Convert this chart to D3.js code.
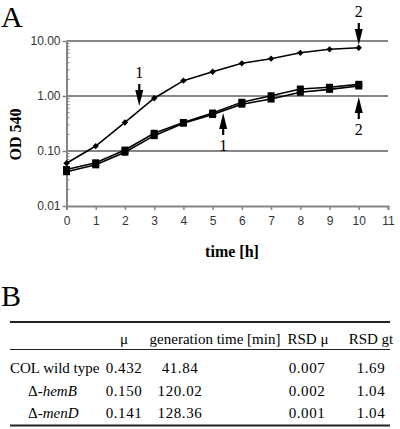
<!DOCTYPE html>
<html><head><meta charset="utf-8">
<script src="https://cdn.jsdelivr.net/npm/d3@7"></script>
<style>html,body{margin:0;padding:0;background:#fff;}</style>
</head><body>
<svg id="c" width="400" height="429"></svg>
<script>
const hours = [0,1,2,3,4,5,6,7,8,9,10];
const wildType = [0.060,0.123,0.33,0.91,1.9,2.76,3.93,4.77,6.1,7.06,7.55];
const hemB = [0.046,0.061,0.104,0.21,0.33,0.49,0.77,1.01,1.34,1.44,1.63];
const menD = [0.042,0.056,0.095,0.19,0.32,0.46,0.71,0.88,1.17,1.32,1.52];
const xTicks = [0,1,2,3,4,5,6,7,8,9,10,11];
const yTicks = [0.01,0.1,1,10];
const arrows = [
  {t:2.49, od:0.66, dir:"down", label:"1"},
  {t:5.36, od:0.49, dir:"up", label:"1"},
  {t:10, od:8.45, dir:"down", label:"2"},
  {t:10, od:0.96, dir:"up", label:"2"}
];
const tableHeader = ["", "\u03bc", "generation time [min]", "RSD \u03bc", "RSD gt"];
const strains = ["COL wild type", "\u0394-", "\u0394-"];
const strainItalic = ["", "hemB", "menD"];
const mu = ["0.432","0.150","0.141"];
const genTime = ["41.84","120.02","128.36"];
const rsdMu = ["0.007","0.002","0.001"];
const rsdGt = ["1.69","1.04","1.04"];

const svg = d3.select("#c");
const x = d3.scaleLinear().domain([0,11]).range([66.5,388]);
const y = d3.scaleLog().domain([0.01,10]).range([206,41]);
const grey = "#858585";
const serif = "'Liberation Serif','Times New Roman',serif";
const sans = "'Liberation Sans',Arial,sans-serif";

svg.append("text").attr("x",1).attr("y",27).attr("font-family",serif).attr("font-size",30).text("A");

// gridlines
svg.append("g").selectAll("line").data(yTicks.filter(d=>d>0.01)).join("line")
  .attr("x1",x(0)).attr("x2",x(11)).attr("y1",d=>y(d)).attr("y2",d=>y(d))
  .attr("stroke",grey).attr("stroke-width",2);

// x axis
const xa = svg.append("g").attr("transform",`translate(0,${y(0.01)})`)
  .call(d3.axisBottom(x).tickValues(xTicks).tickFormat(d3.format("d")).tickSize(4).tickPadding(6));
xa.select(".domain").attr("stroke",grey).attr("stroke-width",2);
xa.selectAll(".tick line").attr("stroke",grey).attr("stroke-width",1.5);
xa.selectAll("text").attr("font-family",sans).attr("font-size",12).attr("fill","#333");

// y axis
const ya = svg.append("g").attr("transform",`translate(${x(0)},0)`)
  .call(d3.axisLeft(y).tickValues(yTicks).tickFormat(d3.format(".2f")).tickSize(4).tickPadding(2).tickSizeOuter(0));
ya.select(".domain").attr("stroke",grey).attr("stroke-width",2);
ya.selectAll(".tick line").attr("stroke",grey).attr("stroke-width",1.5);
ya.selectAll("text").attr("font-family",sans).attr("font-size",12).attr("fill","#333");
// minor ticks
const minors = [];
[0.01,0.1,1].forEach(b=>{for(let k=2;k<=9;k++) minors.push(b*k);});
svg.append("g").selectAll("line").data(minors).join("line")
  .attr("x1",x(0)).attr("x2",x(0)+3).attr("y1",d=>y(d)).attr("y2",d=>y(d))
  .attr("stroke",grey).attr("stroke-width",1);

// axis titles
svg.append("text").attr("transform",`translate(21,${y(0.2)}) rotate(-90)`)
  .attr("text-anchor","middle").attr("font-family",serif).attr("font-weight","bold").attr("font-size",16).text("OD 540");
svg.append("text").attr("x",232).attr("y",257).attr("text-anchor","middle")
  .attr("font-family",serif).attr("font-weight","bold").attr("font-size",16).text("time [h]");

// lines
const line = d3.line().x((d,i)=>x(hours[i])).y(d=>y(d));
[menD,hemB,wildType].forEach(s=>{
  svg.append("path").datum(s).attr("d",line).attr("fill","none").attr("stroke","#000").attr("stroke-width",1.6);
});
// markers
[hemB,menD].forEach(s=>{
  svg.append("g").selectAll("rect").data(s).join("rect")
    .attr("x",(d,i)=>x(hours[i])-3.5).attr("y",d=>y(d)-3.5).attr("width",7).attr("height",7).attr("fill","#000");
});
svg.append("g").selectAll("path").data(wildType).join("path")
  .attr("d",d3.symbol(d3.symbolSquare,20))
  .attr("transform",(d,i)=>`translate(${x(hours[i])},${y(d)}) rotate(45)`).attr("fill","#000");

// arrows
arrows.forEach(a=>{
  const tx = x(a.t), ty = y(a.od);
  const s = a.dir==="down" ? -1 : 1; // direction from tip to base
  const len = 22, head = 16, hw = 4;
  const g = svg.append("g");
  g.append("line").attr("x1",tx).attr("x2",tx).attr("y1",ty+s*head).attr("y2",ty+s*len)
    .attr("stroke","#000").attr("stroke-width",2.2);
  g.append("path").attr("d",`M${tx},${ty} L${tx-hw},${ty+s*head} L${tx+hw},${ty+s*head} Z`).attr("fill","#000");
  g.append("text").attr("x",tx).attr("y",ty+s*(len+ (s<0?6:16))).attr("text-anchor","middle")
    .attr("font-family",serif).attr("font-size",16).text(a.label);
});

// Panel B
svg.append("text").attr("x",1).attr("y",306).attr("font-family",serif).attr("font-size",30).text("B");
svg.append("line").attr("x1",10).attr("x2",390).attr("y1",322).attr("y2",322).attr("stroke","#222").attr("stroke-width",2);
svg.append("line").attr("x1",10).attr("x2",390).attr("y1",349.5).attr("y2",349.5).attr("stroke","#222").attr("stroke-width",1);
svg.append("line").attr("x1",10).attr("x2",390).attr("y1",425.5).attr("y2",425.5).attr("stroke","#222").attr("stroke-width",2);

const colX = [null,124,215,308,371];
const hdr = svg.append("g").attr("font-family",serif).attr("font-size",15).attr("text-anchor","middle");
tableHeader.forEach((h,i)=>{ if(i>0) hdr.append("text").attr("x",colX[i]).attr("y",344).text(h); });

const rowY = [373,395.5,418];
const valX = [124,180,307,371];
const tb = svg.append("g").attr("font-family",serif).attr("font-size",15);
strains.forEach((s,i)=>{
  const t = tb.append("text").attr("x",i===0?10:28).attr("y",rowY[i]);
  t.append("tspan").text(s);
  if(strainItalic[i]) t.append("tspan").attr("font-style","italic").text(strainItalic[i]);
  [mu[i],genTime[i],rsdMu[i],rsdGt[i]].forEach((v,j)=>{
    tb.append("text").attr("x",valX[j]).attr("y",rowY[i]).attr("text-anchor","middle").attr("letter-spacing",0.6).text(v);
  });
});
</script>
</body></html>
